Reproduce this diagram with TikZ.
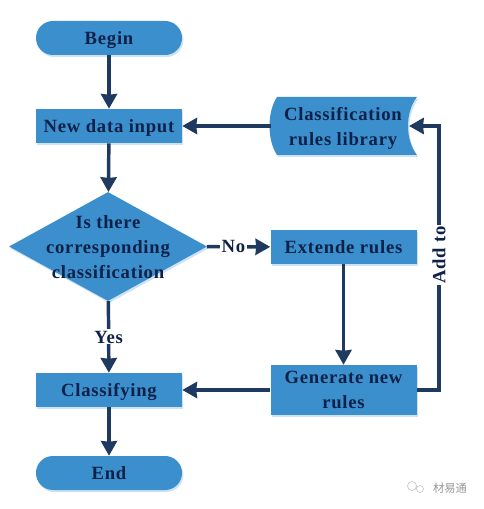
\documentclass[tikz,border=0pt]{standalone}
\usepackage{fontspec}
\setmainfont[LetterSpace=4]{Liberation Serif}
\newfontfamily\cjkfont{Noto Sans CJK SC}
\usetikzlibrary{shapes.geometric,arrows.meta,shadows}
\definecolor{boxblue}{HTML}{3A8FCC}
\definecolor{inkblue}{HTML}{0F2148}
\definecolor{linkblue}{HTML}{1F3A60}
\tikzset{
  softshadow/.style={drop shadow={shadow xshift=1pt,shadow yshift=-1.5pt,fill=boxblue,opacity=.25}},
  lbl/.style={font=\fontsize{14}{18.75}\selectfont\bfseries,text=inkblue,align=center,text depth=0pt},
  procbox/.style={lbl,rectangle,fill=boxblue,softshadow,minimum width=109.5pt,minimum height=25.5pt,inner sep=0pt},
  termbox/.style={procbox,rounded corners=12.7pt},
  decbox/.style={lbl,diamond,fill=boxblue,softshadow,inner sep=0pt,minimum width=148.5pt,minimum height=81.75pt,aspect=1.8},
  textonly/.style={lbl,inner sep=0pt,minimum width=103.5pt,minimum height=43.5pt},
  link/.style={draw=linkblue,line width=2.6pt,-{Stealth[length=11pt,width=12pt,inset=0.5pt]}},
  edgelbl/.style={lbl,fill=white,inner sep=1pt},
}
\begin{document}
\begin{tikzpicture}[x=0.75pt,y=-0.75pt]
\useasboundingbox[fill=white] (0,0) rectangle (484,509);
\node[termbox] (begin) at (109,38) {Begin};
\node[procbox] (input) at (109,126) {New data input};
\node[decbox] (dec) at (108,246.5) {};
\node[lbl,inner sep=0pt] (dectext) at (108,247) {Is there\\corresponding\\classification};
\node[procbox] (ext) at (343.5,247) {Extende rules};
\node[procbox,minimum height=37.5pt] (gen) at (343.5,390) {Generate new\\rules};
\node[procbox] (cls) at (109,390) {Classifying};
\node[termbox] (end) at (109,473) {End};
\fill[boxblue,softshadow] (277,97) -- (417,97) .. controls (405,112) and (405,140) .. (417,155) -- (277,155) .. controls (267,140) and (267,112) .. (277,97) -- cycle;
\node[textonly] (lib) at (343,126) {Classification\\rules library};
\coordinate (libe) at (409,126);
\coordinate (libw) at (271,126);
\coordinate (corner) at (439,126);
\draw[link] (begin) -- (input);
\draw[link] (input) -- (dec);
\draw[link] (dec) -- node[edgelbl,pos=.5] (yes) {Yes} (cls);
\draw[link] (cls) -- (end);
\draw[link] (dec) -- node[edgelbl,pos=.42] (no) {No} (ext);
\draw[link] (ext) -- (gen);
\draw[link] (gen) -- (cls);
\draw[link] (libw) -- (input);
\draw[link] (gen.east) -| (corner) -- (libe);
\node[edgelbl,rotate=90] (add) at (439,255) {Add to};
\draw[gray!45,line width=.5pt] (412,486) circle (4.5) (420,489) circle (3.5);
\node[font=\fontsize{8.5}{10}\cjkfont,text=gray!80,inner sep=0pt] (mark) at (450,488) {材易通};
\end{tikzpicture}
\end{document}
